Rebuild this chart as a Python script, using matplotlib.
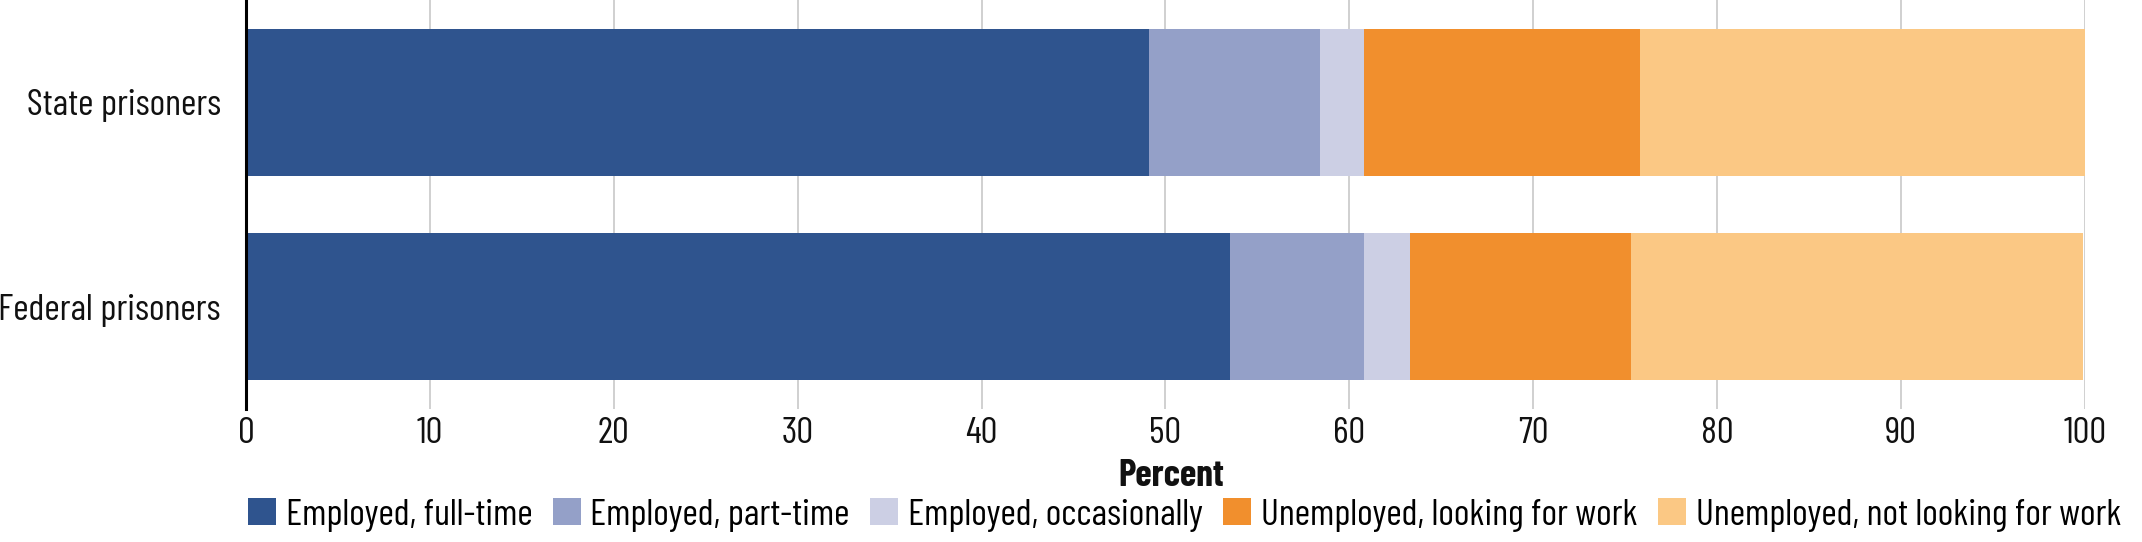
import matplotlib
matplotlib.use('Agg')
import matplotlib.pyplot as plt
from matplotlib import font_manager
from matplotlib.patches import Patch

# Data (percent)
groups = ['State prisoners', 'Federal prisoners']
categories = ['Employed, full-time', 'Employed, part-time', 'Employed, occasionally',
              'Unemployed, looking for work', 'Unemployed, not looking for work']
full_time = [49.1, 53.5]
part_time = [9.3, 7.3]
occasionally = [2.4, 2.5]
looking = [15.0, 12.0]
not_looking = [24.2, 24.6]

colors = ['#2f548e', '#94a0c8', '#cccfe4', '#f18f2d', '#fbc884']

# Pick a condensed font if one is installed
installed = set(f.name for f in font_manager.fontManager.ttflist)
family = 'DejaVu Sans'
for name in ['Barlow Condensed', 'Asap Condensed', 'Archivo Narrow', 'Liberation Sans']:
    if name in installed:
        family = name
        break
plt.rcParams['font.family'] = [family, 'DejaVu Sans']

fig = plt.figure(figsize=(21.42, 5.42), dpi=100)
ax = fig.add_axes([0.1148, 0.2454, 0.8586, 0.7546])

series = [full_time, part_time, occasionally, looking, not_looking]
y = list(range(len(groups)))
left = [0.0] * len(groups)
for vals, col in zip(series, colors):
    ax.barh(y, vals, left=left, height=0.72, color=col, zorder=2)
    left = [l + v for l, v in zip(left, vals)]

ax.set_xlim(0, 100)
ax.set_ylim(1.5, -0.5)
ax.set_xticks(range(0, 101, 10))
ax.set_yticks(y)
ax.set_yticklabels(groups)
ax.xaxis.grid(True, color='#c8c8c8', linewidth=1.2, zorder=0)
ax.set_axisbelow(True)

for side in ['top', 'right', 'bottom']:
    ax.spines[side].set_visible(False)
ax.spines['left'].set_linewidth(2.2)
ax.spines['left'].set_color('black')
ax.tick_params(axis='both', length=0, labelsize=27, colors='#111111')
ax.tick_params(axis='x', pad=6)
ax.tick_params(axis='y', pad=18)

fig.text(0.547, 0.122, 'Percent', fontsize=27, fontweight='bold', ha='center', va='center',
         color='#111111')

handles = [Patch(facecolor=c, edgecolor='none') for c in colors]
fig.legend(handles, categories, loc='center', bbox_to_anchor=(0.553, 0.05), ncol=5,
           frameon=False, fontsize=27, handlelength=0.75, handleheight=0.75,
           handletextpad=0.25, columnspacing=0.55, borderaxespad=0)

fig.savefig('out.png', dpi=100)
